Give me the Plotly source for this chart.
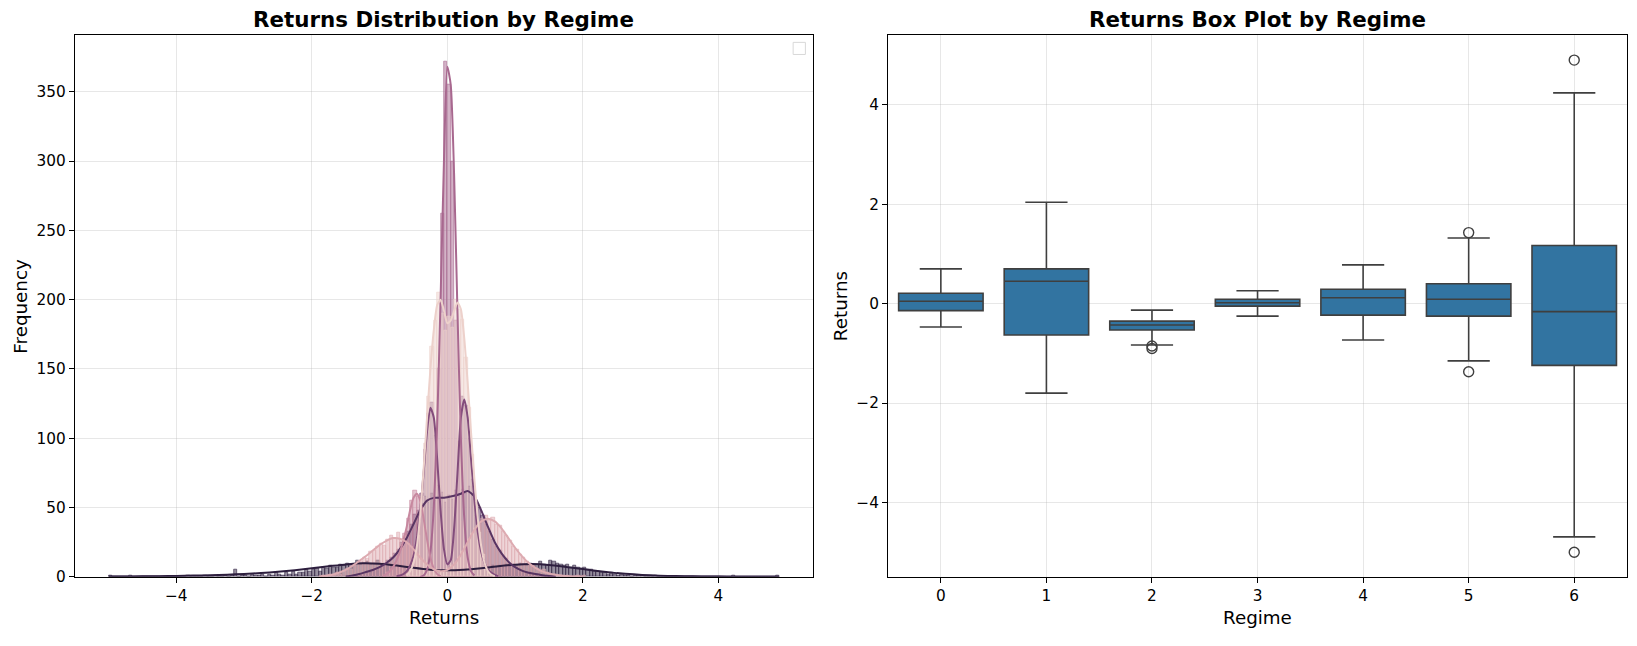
import plotly.graph_objects as go

# ---- data ----
REGIMES = [0, 1, 2, 3, 4, 5, 6]
COLORS = ["#edd1cb", "#ddabb1", "#c7889f", "#a8688f", "#834d7c", "#583462", "#2d1e3e"]
BIN_W = 0.05

# histogram counts per regime: left edge of first bin + counts
hist_start = {0: -0.6, 1: -1.85, 2: -0.95, 3: -0.35, 4: -0.75, 5: -1.4, 6: -5.0}
hist_counts = {
    0: [2, 6, 15, 30, 58, 96, 130, 166, 185, 205, 190, 178, 188, 180, 200, 193,
        186, 158, 122, 88, 55, 32, 16, 7, 3, 1],
    1: [1, 0, 2, 1, 3, 2, 4, 6, 5, 8, 10, 11, 14, 13, 18, 19, 22, 24, 23, 27,
        30, 28, 32, 27, 29, 24, 22, 18, 16, 12, 10, 7, 6, 4, 5, 3, 5, 6, 8, 10,
        14, 18, 22, 27, 31, 35, 38, 42, 44, 41, 43, 38, 37, 33, 30, 26, 22, 20,
        16, 14, 11, 9, 8, 6, 4, 5, 3, 2, 2, 1, 1, 0, 1, 0, 0, 1, 0, 1],
    2: [1, 3, 5, 9, 15, 22, 31, 42, 55, 62, 58, 50, 35, 21, 10, 4, 1],
    3: [2, 8, 26, 75, 150, 262, 372, 355, 300, 185, 98, 40, 14, 3],
    4: [1, 1, 3, 6, 11, 21, 38, 60, 92, 118, 126, 102, 66, 33, 12, 9, 22, 55,
        98, 130, 124, 100, 70, 44, 25, 14, 8, 4, 2, 1, 1],
    5: [1, 0, 1, 2, 3, 3, 5, 6, 8, 9, 12, 14, 17, 20, 25, 28, 33, 38, 45, 48,
        53, 58, 54, 60, 55, 58, 61, 54, 59, 56, 62, 58, 63, 60, 65, 59, 54, 50,
        44, 38, 33, 27, 22, 19, 15, 13, 10, 8, 7, 5, 4, 3, 3, 2, 2, 1, 1],
    6: [1, 0, 0, 0, 0, 0, 1, 0, 0, 0, 0, 0, 0, 0, 0, 0, 0, 0, 0, 0,
        0, 0, 0, 1, 0, 0, 0, 0, 1, 0, 0, 1, 0, 0, 1, 0, 1, 5, 0, 1,
        1, 0, 2, 1, 1, 2, 0, 2, 1, 3, 2, 1, 3, 2, 4, 2, 3, 3, 5, 4,
        5, 6, 4, 7, 6, 8, 7, 7, 9, 8, 10, 9, 8, 12, 9, 10, 11, 9, 10, 12,
        9, 10, 8, 9, 8, 7, 8, 6, 7, 6, 6, 5, 6, 5, 5, 4, 5, 4, 5, 4,
        5, 4, 5, 5, 4, 6, 5, 6, 5, 7, 6, 7, 6, 8, 7, 8, 7, 9, 8, 9,
        8, 10, 9, 8, 10, 9, 9, 11, 9, 8, 12, 11, 10, 9, 8, 9, 7, 8, 7, 6,
        7, 5, 5, 4, 4, 3, 3, 2, 3, 2, 1, 2, 1, 1, 0, 1, 1, 1, 0, 0,
        0, 1, 0, 0, 0, 0, 0, 0, 0, 0, 0, 0, 0, 0, 0, 0, 0, 0, 0, 0,
        0, 0, 0, 0, 1, 0, 0, 0, 0, 0, 0, 0, 0, 0, 0, 0, 0, 1],
}

# kde curves (x, y) per regime
kde_x = {
    0: [-0.6, -0.55, -0.5, -0.45, -0.4, -0.35, -0.3, -0.25, -0.2, -0.15, -0.1, -0.05,
        0.0, 0.05, 0.1, 0.15, 0.2, 0.25, 0.3, 0.35, 0.4, 0.45, 0.5, 0.55, 0.6, 0.65, 0.7],
    1: [-1.9, -1.8, -1.7, -1.6, -1.5, -1.4, -1.3, -1.2, -1.1, -1.0, -0.9, -0.8, -0.7,
        -0.6, -0.5, -0.4, -0.3, -0.2, -0.1, 0.0, 0.1, 0.2, 0.3, 0.4, 0.5, 0.6, 0.7,
        0.8, 0.9, 1.0, 1.1, 1.2, 1.3, 1.4, 1.5, 1.6, 1.7, 1.8, 1.9, 2.0],
    2: [-0.95, -0.9, -0.85, -0.8, -0.75, -0.7, -0.65, -0.6, -0.55, -0.5, -0.45, -0.4,
        -0.35, -0.3, -0.25, -0.2, -0.15, -0.1],
    3: [-0.4, -0.35, -0.3, -0.25, -0.2, -0.15, -0.1, -0.05, 0.0, 0.05, 0.1, 0.15,
        0.2, 0.25, 0.3, 0.35, 0.4],
    4: [-0.75, -0.7, -0.65, -0.6, -0.55, -0.5, -0.45, -0.4, -0.35, -0.3, -0.25, -0.2,
        -0.15, -0.1, -0.05, 0.0, 0.05, 0.1, 0.15, 0.2, 0.25, 0.3, 0.35, 0.4, 0.45,
        0.5, 0.55, 0.6, 0.65, 0.7, 0.75],
    5: [-1.5, -1.4, -1.3, -1.2, -1.1, -1.0, -0.9, -0.8, -0.7, -0.6, -0.5, -0.4, -0.3,
        -0.2, -0.1, 0.0, 0.1, 0.2, 0.3, 0.4, 0.5, 0.6, 0.7, 0.8, 0.9, 1.0, 1.1, 1.2,
        1.3, 1.4, 1.5, 1.6],
    6: [-5.0, -4.75, -4.5, -4.25, -4.0, -3.75, -3.5, -3.25, -3.0, -2.75, -2.5, -2.25,
        -2.0, -1.75, -1.5, -1.25, -1.0, -0.75, -0.5, -0.25, 0.0, 0.25, 0.5, 0.75,
        1.0, 1.25, 1.5, 1.75, 2.0, 2.25, 2.5, 2.75, 3.0, 3.25, 3.5, 3.75, 4.0,
        4.25, 4.5, 4.75, 4.9],
}
kde_y = {
    0: [1, 4, 10, 22, 45, 78, 115, 150, 178, 196, 200, 192, 183, 185, 192, 198,
        193, 172, 140, 104, 70, 42, 22, 10, 4, 1.5, 0.5],
    1: [0.3, 0.8, 1.5, 3, 5, 8, 11.5, 15, 19, 23, 26, 28, 27.5, 25, 20, 14, 9, 5.5,
        4, 5, 9, 16, 25, 34, 40, 42, 40, 35, 28, 21, 15, 10, 6.5, 4, 2.5, 1.5, 0.8,
        0.4, 0.2, 0.1],
    2: [0.5, 2, 4, 7, 12, 18, 26, 36, 48, 57, 60, 55, 42, 27, 14, 6, 2, 0.5],
    3: [0, 1, 5, 18, 50, 110, 200, 300, 368, 355, 290, 190, 100, 42, 14, 4, 1],
    4: [0.5, 1, 2, 4, 8, 15, 28, 48, 75, 105, 122, 115, 85, 48, 20, 9, 12, 35, 75,
        115, 128, 115, 85, 55, 32, 18, 10, 5, 3, 1.5, 0.5],
    5: [0.3, 1, 2, 3.5, 5, 7, 10, 14, 20, 28, 38, 48, 55, 57, 57, 57.5, 58.5, 60,
        62, 58, 48, 36, 25, 17, 11, 7, 4.5, 3, 2, 1.2, 0.6, 0.2],
    6: [0.2, 0.3, 0.4, 0.5, 0.7, 0.9, 1.2, 1.6, 2.1, 2.8, 3.7, 4.8, 6.2, 7.6, 9.0,
        9.8, 9.5, 8.2, 6.5, 5.2, 4.7, 5.2, 6.3, 7.7, 8.8, 9.2, 8.6, 7.2, 5.6, 4.0,
        2.7, 1.8, 1.1, 0.7, 0.45, 0.3, 0.2, 0.15, 0.1, 0.1, 0.05],
}

# box plot statistics per regime
box_q1 = [-0.14, -0.63, -0.53, -0.05, -0.23, -0.25, -1.24]
box_median = [0.05, 0.45, -0.43, 0.02, 0.12, 0.09, -0.16]
box_q3 = [0.21, 0.70, -0.35, 0.09, 0.29, 0.40, 1.17]
box_low = [-0.47, -1.80, -0.83, -0.25, -0.73, -1.15, -4.69]
box_high = [0.70, 2.04, -0.13, 0.26, 0.78, 1.32, 4.24]
outlier_regime = [2, 2, 5, 5, 6, 6]
outlier_value = [-0.85, -0.90, 1.43, -1.37, 4.90, -5.00]


def rgba(hex_color, a):
    h = hex_color.lstrip("#")
    r, g, b = int(h[0:2], 16), int(h[2:4], 16), int(h[4:6], 16)
    return "rgba({},{},{},{})".format(r, g, b, a)


fig = go.Figure()

# histogram bars, drawn last regime first like seaborn layering
for r in reversed(REGIMES):
    counts = hist_counts[r]
    centers = [hist_start[r] + BIN_W * (i + 0.5) for i in range(len(counts))]
    fig.add_trace(go.Bar(
        x=centers, y=counts, width=BIN_W,
        marker=dict(color=rgba(COLORS[r], 0.5),
                    line=dict(color=COLORS[r], width=0.6)),
        xaxis="x", yaxis="y", showlegend=False, hoverinfo="skip"))

for r in reversed(REGIMES):
    fig.add_trace(go.Scatter(
        x=kde_x[r], y=kde_y[r], mode="lines",
        line=dict(color=COLORS[r], width=2, shape="spline", smoothing=0.6),
        xaxis="x", yaxis="y", showlegend=False, hoverinfo="skip"))

# box plot
fig.add_trace(go.Box(
    x=REGIMES, q1=box_q1, median=box_median, q3=box_q3,
    lowerfence=box_low, upperfence=box_high,
    width=0.8, whiskerwidth=0.5, boxpoints=False,
    fillcolor="#3274a1", line=dict(color="#3f3f3f", width=1.6),
    xaxis="x2", yaxis="y2", showlegend=False))

fig.add_trace(go.Scatter(
    x=outlier_regime, y=outlier_value, mode="markers",
    marker=dict(symbol="circle-open", size=10, color="#3f3f3f", line=dict(width=1.4)),
    xaxis="x2", yaxis="y2", showlegend=False))

FONT = "DejaVu Sans"
GRID = "rgba(176,176,176,0.3)"
axis_common = dict(showline=True, mirror=True, linecolor="black", linewidth=1.2,
                   ticks="outside", ticklen=5, tickwidth=1.2, tickcolor="black",
                   showgrid=True, gridcolor=GRID, gridwidth=1, zeroline=False,
                   tickfont=dict(family=FONT, size=15.3, color="black"))

fig.update_layout(
    width=1637, height=646,
    margin=dict(l=0, r=0, t=0, b=0),
    paper_bgcolor="white", plot_bgcolor="white",
    barmode="overlay", bargap=0,
    showlegend=False,
    xaxis=dict(domain=[0.0458, 0.4966], range=[-5.495, 5.395],
               tickvals=[-4, -2, 0, 2, 4], anchor="y", **axis_common),
    yaxis=dict(domain=[0.0944, 0.9443], range=[0, 390.6],
               tickvals=[0, 50, 100, 150, 200, 250, 300, 350], anchor="x", **axis_common),
    xaxis2=dict(domain=[0.5425, 0.9939], range=[-0.5, 6.5],
                tickvals=REGIMES, anchor="y2", **axis_common),
    yaxis2=dict(domain=[0.0944, 0.9443], range=[-5.495, 5.395],
                tickvals=[-4, -2, 0, 2, 4], anchor="x2", **axis_common),
)

# titles and axis labels
texts = [
    ("Returns Distribution by Regime", 0.2712, 0.969, 21.4, True, 0),
    ("Returns Box Plot by Regime", 0.7682, 0.969, 21.4, True, 0),
    ("Returns", 0.2712, 0.031, 18.3, False, 0),
    ("Regime", 0.7682, 0.031, 18.3, False, 0),
    ("Frequency", 0.0125, 0.5193, 18.3, False, -90),
    ("Returns", 0.5131, 0.5193, 18.3, False, -90),
]
for txt, x, y, size, bold, angle in texts:
    fig.add_annotation(
        text="<b>{}</b>".format(txt) if bold else txt,
        x=x, y=y, xref="paper", yref="paper", showarrow=False,
        xanchor="center", yanchor="middle", textangle=angle,
        font=dict(family=FONT, size=size, color="black"))

# empty legend box in the corner of the left panel
fig.add_shape(type="rect", xref="paper", yref="paper",
              x0=0.4845, x1=0.4920, y0=0.9145, y1=0.9335,
              line=dict(color="#d8d8d8", width=1), fillcolor="rgba(255,255,255,0.8)")

# pin the graph to the page corner so nothing else adds height
fix_page = ("document.documentElement.style.overflow='hidden';"
            "document.body.style.margin='0';"
            "document.body.style.overflow='hidden';"
            "var gd=document.getElementById('{plot_id}');"
            "gd.style.position='absolute';gd.style.top='0px';gd.style.left='0px';")
fig.write_html("out.html", config={"displayModeBar": False},
               post_script=fix_page)
